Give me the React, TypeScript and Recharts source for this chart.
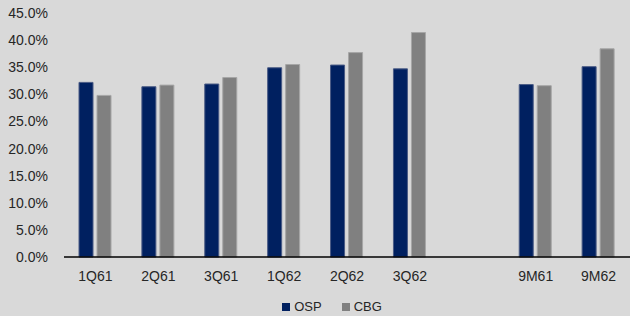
import { BarChart, Bar, XAxis, YAxis, Legend } from 'recharts';

const categories = ['1Q61', '2Q61', '3Q61', '1Q62', '2Q62', '3Q62', '', '9M61', '9M62'];
const ospValues = [32.2, 31.4, 31.9, 34.9, 35.4, 34.7, null, 31.8, 35.1];
const cbgValues = [29.8, 31.7, 33.1, 35.5, 37.7, 41.4, null, 31.6, 38.4];
const yTicks = [0, 5, 10, 15, 20, 25, 30, 35, 40, 45];
const seriesOrder = ['OSP', 'CBG'];

const data = categories.map((name, i) => ({
  name,
  OSP: ospValues[i],
  CBG: cbgValues[i],
}));

const FONT = '"Liberation Sans", Arial, sans-serif';
const TEXT = '#262626';

// Excel-style legend: small squares with labels, kept in series order
const renderLegend = (props: any) => {
  const payload = [...(props.payload || [])].sort(
    (a: any, b: any) => seriesOrder.indexOf(a.value) - seriesOrder.indexOf(b.value)
  );
  return (
    <div style={{ display: 'flex', justifyContent: 'center', gap: 20, fontFamily: FONT, fontSize: 13, color: TEXT, paddingLeft: 34 }}>
      {payload.map((entry: any, index: number) => (
        <span key={`legend-${index}`} style={{ display: 'flex', alignItems: 'center', gap: 4 }}>
          <span style={{ display: 'inline-block', width: 8, height: 8, backgroundColor: entry.color }} />
          {entry.value}
        </span>
      ))}
    </div>
  );
};

export default function App() {
  return (
    <div style={{ width: 630, height: 316, background: '#d9d9d9' }}>
      <style>{'body{margin:0}'}</style>
      <BarChart
        width={630}
        height={316}
        data={data}
        margin={{ top: 13, right: 0, bottom: 14, left: 0 }}
        barSize={14}
        barGap={4}
      >
        <XAxis
          dataKey="name"
          height={30}
          axisLine={{ stroke: '#000', strokeWidth: 1.5 }}
          tickLine={false}
          tickSize={0}
          tickMargin={14}
          tick={{ fill: TEXT, fontSize: 14, fontFamily: FONT }}
          interval={0}
        />
        <YAxis
          width={64}
          domain={[0, 45]}
          ticks={yTicks}
          axisLine={false}
          tickLine={false}
          tickSize={0}
          tickMargin={16}
          tickFormatter={(v: number) => `${v.toFixed(1)}%`}
          tick={{ fill: TEXT, fontSize: 14, fontFamily: FONT }}
        />
        <Legend content={renderLegend} verticalAlign="bottom" wrapperStyle={{ bottom: 2 }} />
        <Bar dataKey="OSP" fill="#002060" stroke="#4a5b85" strokeWidth={1} isAnimationActive={false} />
        <Bar dataKey="CBG" fill="#808080" stroke="#a6a6a6" strokeWidth={1} isAnimationActive={false} />
      </BarChart>
    </div>
  );
}
